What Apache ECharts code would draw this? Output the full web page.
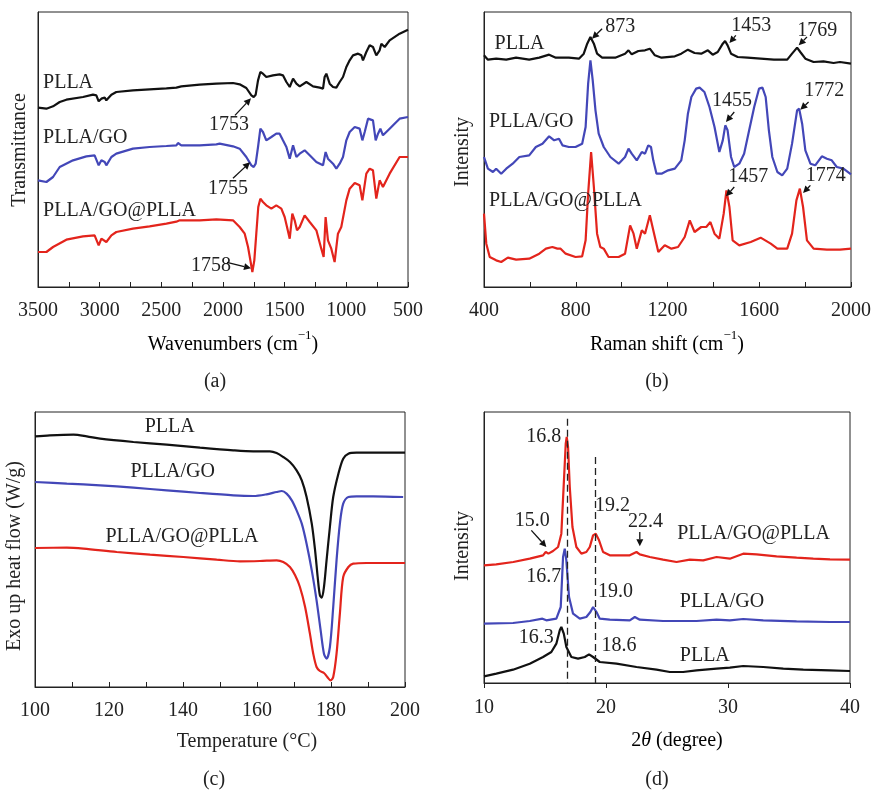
<!DOCTYPE html>
<html><head><meta charset="utf-8">
<script src="https://cdn.jsdelivr.net/npm/echarts@6/dist/echarts.min.js"></script>
<style>html,body{margin:0;padding:0;background:#fff}#c{width:874px;height:790px}</style>
</head><body><div id="c"></div>
<script>
// ---------- DATA ----------
// (a) FTIR, x = wavenumber (cm-1), y = transmittance (a.u., offset)
const ftirPLLA = [[3500,538],[3432,535],[3378,542],[3324,555],[3270,562],[3135,570],[3054,577],[3027,575],[3008,557],[2986,565],[2959,568],[2946,560],[2905,577],[2865,585],[2730,590],[2595,593],[2459,596],[2378,598],[2365,592],[2338,602],[2189,607],[2054,610],[1919,612],[1865,608],[1811,597],[1770,575],[1751,570],[1735,577],[1716,620],[1697,645],[1676,640],[1649,630],[1595,635],[1541,638],[1514,635],[1486,615],[1459,600],[1432,625],[1405,610],[1378,602],[1324,615],[1270,602],[1216,598],[1189,595],[1176,630],[1162,640],[1135,610],[1108,600],[1081,598],[1054,615],[1027,630],[1000,660],[973,680],[946,695],[905,700],[878,695],[865,680],[838,705],[811,725],[784,720],[757,695],[730,710],[716,730],[689,720],[649,740],[568,760],[500,772]];
const ftirPLLAGO = [[3500,320],[3432,315],[3378,330],[3324,360],[3216,380],[3108,392],[3041,395],[3008,365],[2986,380],[2959,375],[2946,365],[2905,390],[2865,400],[2730,415],[2595,420],[2459,423],[2378,425],[2365,432],[2338,425],[2189,425],[2054,428],[2027,430],[1919,422],[1865,415],[1811,390],[1770,365],[1751,360],[1735,370],[1716,420],[1697,475],[1676,465],[1649,440],[1608,450],[1568,460],[1541,460],[1514,440],[1486,420],[1459,385],[1432,425],[1405,390],[1378,400],[1338,410],[1297,395],[1243,375],[1189,365],[1168,405],[1149,385],[1108,370],[1081,355],[1054,370],[1027,390],[1000,440],[973,465],[932,480],[892,475],[870,440],[851,465],[824,505],[784,500],[762,440],[743,460],[724,475],[703,455],[649,475],[568,505],[500,510]];
const ftirPLLAGOPLLA = [[3500,105],[3432,105],[3378,120],[3270,142],[3135,152],[3041,155],[3008,125],[2986,145],[2946,135],[2905,155],[2865,165],[2730,175],[2595,182],[2459,190],[2378,196],[2351,200],[2338,195],[2189,200],[2054,203],[1919,200],[1865,180],[1824,160],[1797,120],[1778,80],[1762,45],[1746,80],[1730,160],[1714,240],[1697,265],[1676,255],[1649,245],[1608,235],[1568,245],[1527,235],[1500,210],[1481,180],[1459,145],[1438,220],[1419,200],[1400,170],[1378,180],[1338,215],[1297,195],[1243,170],[1203,115],[1184,90],[1168,210],[1149,140],[1122,115],[1095,75],[1068,160],[1041,180],[1000,260],[973,295],[932,312],[892,305],[870,260],[838,340],[811,355],[784,350],[757,265],[730,320],[703,300],[649,340],[568,390],[500,390]];

// (b) Raman, x = Raman shift (cm-1), y = intensity (a.u., offset)
const ramanPLLA = [[400,695],[417,682],[453,685],[497,682],[540,688],[597,682],[641,688],[684,697],[713,688],[770,688],[814,685],[835,700],[850,730],[864,750],[879,730],[893,700],[915,688],[972,688],[1015,700],[1030,710],[1044,698],[1073,708],[1102,710],[1123,715],[1145,695],[1174,688],[1232,692],[1260,700],[1289,712],[1318,702],[1347,700],[1376,710],[1397,697],[1419,705],[1441,730],[1451,738],[1462,725],[1477,700],[1506,690],[1549,688],[1606,685],[1664,682],[1722,682],[1743,700],[1765,718],[1779,705],[1801,685],[1837,675],[1880,677],[1924,672],[1952,675],[2000,670]];
const ramanPLLAGO = [[400,390],[417,355],[439,345],[453,355],[475,340],[497,355],[525,370],[554,390],[597,395],[626,420],[655,430],[684,452],[706,440],[727,445],[742,425],[770,420],[799,420],[828,430],[843,480],[854,610],[864,680],[874,620],[886,530],[900,460],[922,420],[951,390],[987,370],[1015,390],[1030,415],[1044,400],[1066,380],[1088,405],[1102,400],[1116,425],[1128,420],[1138,380],[1152,340],[1174,340],[1203,350],[1232,355],[1260,380],[1275,440],[1289,520],[1304,570],[1325,595],[1340,598],[1361,585],[1383,540],[1405,480],[1426,405],[1441,440],[1452,485],[1462,470],[1477,390],[1491,360],[1513,370],[1534,400],[1556,470],[1578,540],[1599,595],[1614,598],[1628,570],[1642,470],[1657,390],[1679,345],[1700,335],[1722,355],[1743,430],[1765,530],[1774,535],[1787,490],[1801,410],[1823,370],[1844,365],[1873,392],[1895,385],[1916,380],[1938,360],[1967,355],[2000,338]];
const ramanPLLAGOPLLA = [[400,220],[410,130],[425,90],[453,80],[475,75],[504,88],[540,82],[597,85],[641,100],[670,115],[698,120],[720,115],[734,115],[756,100],[799,90],[828,92],[843,140],[854,280],[867,405],[879,300],[893,160],[907,120],[922,115],[943,90],[987,90],[1015,100],[1037,185],[1052,160],[1066,115],[1088,170],[1102,160],[1123,215],[1138,170],[1160,105],[1188,125],[1217,115],[1246,120],[1275,150],[1297,200],[1318,165],[1347,180],[1369,180],[1387,195],[1405,160],[1426,145],[1445,220],[1457,290],[1470,240],[1484,140],[1513,125],[1563,135],[1606,148],[1650,130],[1679,115],[1722,115],[1743,160],[1762,260],[1777,295],[1791,240],[1808,140],[1837,115],[1895,112],[1952,112],[2000,115]];

// (c) DSC, x = temperature (°C), y = heat flow (a.u., offset)
const dscPLLA = [[100,752],[104,755],[110.4,757],[114,752],[117.6,745],[126.6,735],[135.6,727],[144.6,718],[153.6,710],[159,707],[163.5,707],[165.3,702],[167.1,690],[168.9,675],[170.7,650],[172.1,620],[173.4,570],[174.8,490],[175.7,410],[176.4,330],[177,275],[177.5,268],[178.1,300],[178.8,380],[179.7,480],[180.6,570],[182,640],[183.3,685],[184.7,700],[186.9,703],[191.4,703],[200,703]];
const dscPLLAGO = [[100,615],[108.6,610],[117.6,605],[126.6,598],[135.6,590],[144.6,582],[153.6,575],[159,573],[162.6,578],[165.3,585],[166.7,588],[168,580],[169.4,560],[170.7,530],[172.1,490],[173.4,430],[174.8,350],[176.1,260],[177.2,170],[178.1,100],[178.8,85],[179.7,120],[180.6,240],[181.5,380],[182.4,490],[183.3,550],[184.7,570],[186.9,572],[191.4,572],[199.5,570]];
const dscPLLAGOPLLA = [[100,417],[108.6,418],[113.1,415],[122.1,405],[131.1,397],[140.1,390],[149.1,382],[155.4,377],[160.8,378],[165.3,380],[167.1,375],[168.9,360],[170.3,335],[171.6,300],[173,240],[174.3,160],[175.2,100],[176.1,60],[177,48],[178.1,42],[179,30],[179.9,20],[180.6,30],[181.5,100],[182.4,220],[183.3,330],[184.7,360],[186,370],[189.6,372],[200,372]];

// (d) XRD, x = 2θ (degree), y = intensity (a.u., offset)
const xrdPLLAGOPLLA = [[10,353],[11,356],[12.4,363],[13.75,373],[14.84,383],[15.06,393],[15.28,388],[15.66,396],[16.07,408],[16.34,448],[16.54,598],[16.7,718],[16.78,738],[16.89,708],[17.03,588],[17.25,468],[17.57,408],[17.98,388],[18.39,393],[18.67,408],[18.94,443],[19.16,448],[19.43,428],[19.76,393],[20.31,383],[21.13,383],[21.95,383],[22.5,393],[22.77,386],[23.59,378],[24.68,370],[25.78,363],[26.87,370],[27.97,368],[29.06,378],[30.15,373],[31.25,388],[32.34,386],[33.98,380],[35.62,376],[36.99,373],[38.36,371],[40,370]];
const xrdPLLAGO = [[10,178],[12.38,180],[13.75,186],[14.79,193],[15.11,188],[15.93,193],[16.29,228],[16.48,378],[16.62,403],[16.75,368],[16.97,258],[17.3,208],[17.85,193],[18.39,198],[18.72,213],[18.94,228],[19.22,213],[19.49,193],[20.31,190],[21.95,188],[22.36,198],[22.77,190],[24.68,186],[27.42,186],[29.06,190],[30.15,188],[31.25,192],[32.89,188],[35.62,185],[38.36,183],[40,183]];
const xrdPLLA = [[10,20],[11.01,28],[12.38,40],[13.75,58],[14.84,78],[15.52,93],[15.93,118],[16.21,158],[16.34,168],[16.54,148],[16.75,108],[17.16,78],[17.71,73],[18.26,78],[18.61,86],[18.94,78],[19.49,63],[20.86,58],[22.5,48],[24.14,40],[25.23,33],[26.32,33],[27.42,38],[29.06,43],[30.15,46],[31.25,51],[32.89,48],[34.53,43],[36.17,40],[38.36,38],[40,36]];
const xrdRefLines = [[16.84, 793], [19.1, 678]]; // dashed guide lines: [2θ, top]

// annotations: [grid, text, x, y, align]
const labels = [
  [0,'PLLA',3459,614,'left'],[0,'PLLA/GO',3459,449,'left'],[0,'PLLA/GO@PLLA',3459,230,'left'],
  [0,'1753',1951,488,'center'],[0,'1755',1959,296,'center'],[0,'1758',2097,65,'center'],
  [1,'PLLA',446,730,'left'],[1,'873',994,782,'center'],[1,'1453',1565,785,'center'],[1,'1769',1853,770,'center'],
  [1,'PLLA/GO',422,495,'left'],[1,'1455',1481,560,'center'],[1,'1772',1883,588,'center'],
  [1,'PLLA/GO@PLLA',422,260,'left'],[1,'1457',1552,330,'center'],[1,'1774',1890,333,'center'],
  [2,'PLLA',136.4,780,'center'],[2,'PLLA/GO',137.2,645,'center'],[2,'PLLA/GO@PLLA',139.7,450,'center'],
  [3,'16.8',14.89,738,'center'],[3,'15.0',13.96,488,'center'],[3,'19.2',20.53,533,'center'],[3,'22.4',23.23,483,'center'],
  [3,'PLLA/GO@PLLA',25.83,448,'left'],[3,'16.7',14.89,318,'center'],[3,'19.0',20.77,273,'center'],
  [3,'PLLA/GO',26.05,243,'left'],[3,'16.3',14.29,136,'center'],[3,'18.6',21.07,113,'center'],[3,'PLLA',26.05,83,'left']
];
// arrows: [grid, [x0,y0], [x1,y1]]
const arrows = [
  [0,[1903,515],[1773,566]],[0,[1919,326],[1781,374]],[0,[1968,74],[1773,56]],
  [1,[915,775],[871,745]],[1,[1498,755],[1470,732]],[1,[1808,750],[1772,725]],
  [1,[1491,525],[1455,495]],[1,[1815,555],[1779,532]],
  [1,[1491,300],[1455,272]],[1,[1823,305],[1791,282]],
  [3,[13.88,458],[15.11,408]],[3,[22.77,453],[22.77,410]]
];

// ---------- CHART ----------
const FONT = "'Liberation Serif','Times New Roman',serif";
const BLACK = '#111', BLUE = '#4347b8', RED = '#e3241c';
const chart = echarts.init(document.getElementById('c'));

const grids = [
  {left:38, top:12, width:370, height:275},
  {left:484, top:12, width:370, height:275},
  {left:35, top:412, width:370, height:275},
  {left:484, top:412, width:366, height:271}
].map(g => Object.assign({show:true, borderColor:'#222', borderWidth:1, backgroundColor:'transparent'}, g));

function xAx(i, min, max, interval, inverse, inside, minor) {
  return {
    gridIndex:i, type:'value', min, max, interval, inverse,
    axisLine:{show:true, lineStyle:{color:'#222', width:1}},
    axisTick:{show:true, inside, length:5, lineStyle:{color:'#222'}},
    minorTick:{show:minor, splitNumber:2, length:5, lineStyle:{color:'#222'}},
    splitLine:{show:false}, minorSplitLine:{show:false},
    axisLabel:{color:'#222', fontFamily:FONT, fontSize:20, margin:inside?14:15, formatter:v => String(v)}
  };
}
function yAx(i, max) {
  return {gridIndex:i, type:'value', min:0, max, axisLine:{show:true, lineStyle:{color:'#222'}},
    axisTick:{show:false}, axisLabel:{show:false}, splitLine:{show:false}};
}
function line(i, data, color, smooth) {
  return {type:'line', xAxisIndex:i, yAxisIndex:i, data, showSymbol:false, smooth:smooth||false,
    lineStyle:{color, width:2.2}, itemStyle:{color}, animation:false, z:3};
}

const series = [
  line(0, ftirPLLA, BLACK), line(0, ftirPLLAGO, BLUE), line(0, ftirPLLAGOPLLA, RED),
  line(1, ramanPLLA, BLACK), line(1, ramanPLLAGO, BLUE), line(1, ramanPLLAGOPLLA, RED),
  line(2, dscPLLA, BLACK, 0.3), line(2, dscPLLAGO, BLUE, 0.3), line(2, dscPLLAGOPLLA, RED, 0.3),
  line(3, xrdPLLAGOPLLA, RED), line(3, xrdPLLAGO, BLUE), line(3, xrdPLLA, BLACK)
];
series[11].markLine = {
  silent:true, symbol:'none', animation:false,
  lineStyle:{color:'#222', type:[7,4], width:1.3},
  data: xrdRefLines.map(r => [{coord:[r[0], r[1]]}, {coord:[r[0], 0]}])
};

chart.setOption({
  animation:false,
  grid:grids,
  xAxis:[xAx(0,500,3500,500,true,true,true), xAx(1,400,2000,400,false,true,true),
         xAx(2,100,200,20,false,true,true), xAx(3,10,40,10,false,false,false)],
  yAxis:[yAx(0,825), yAx(1,825), yAx(2,825), yAx(3,813)],
  series
});

const txt = (text, x, y, opts) => ({type:'text', x, y, silent:true, z:10,
  style:Object.assign({text, fill:'#222', font:'20px ' + FONT, textAlign:'center', textVerticalAlign:'middle'}, opts||{})});
// rich titles with superscripts and italic theta
const rich = {
  n:{fontFamily:FONT, fontSize:20, color:'#222', lineHeight:26, verticalAlign:'bottom'},
  s:{fontFamily:FONT, fontSize:13, color:'#222', lineHeight:26, verticalAlign:'top'},
  i:{fontFamily:FONT, fontSize:20, color:'#222', fontStyle:'italic', lineHeight:26, verticalAlign:'bottom'}
};
const richTxt = (text, x, y) => ({type:'text', x, y, silent:true, z:10,
  style:{text, rich, textAlign:'center', textVerticalAlign:'middle'}});

const g = [
  richTxt('{n|Wavenumbers (cm}{s|−1}{n|)}', 233, 342),
  richTxt('{n|Raman shift (cm}{s|−1}{n|)}', 667, 342),
  richTxt('{n|2}{i|θ}{n| (degree)}', 677, 738),
  txt('(a)', 215, 382), txt('(b)', 657, 382), txt('(c)', 214, 780), txt('(d)', 657, 780),
  txt('Temperature (°C)', 247, 742),
  Object.assign(txt('Transmittance', 20, 150), {rotation:Math.PI/2}),
  Object.assign(txt('Intensity', 463, 152), {rotation:Math.PI/2}),
  Object.assign(txt('Exo up heat flow (W/g)', 15, 556), {rotation:Math.PI/2}),
  Object.assign(txt('Intensity', 463, 546), {rotation:Math.PI/2})
];
labels.forEach(l => {
  const p = chart.convertToPixel({gridIndex:l[0]}, [l[2], l[3]]);
  g.push(txt(l[1], p[0], p[1], {textAlign:l[4]}));
});
arrows.forEach(a => {
  const p0 = chart.convertToPixel({gridIndex:a[0]}, a[1]);
  const p1 = chart.convertToPixel({gridIndex:a[0]}, a[2]);
  const dx = p1[0]-p0[0], dy = p1[1]-p0[1], L = Math.hypot(dx,dy), ux = dx/L, uy = dy/L;
  const hl = 7, hw = 3.5;
  const bx = p1[0]-ux*hl, by = p1[1]-uy*hl;
  g.push({type:'line', silent:true, z:10, shape:{x1:p0[0], y1:p0[1], x2:bx, y2:by}, style:{stroke:'#111', lineWidth:1.3}});
  g.push({type:'polygon', silent:true, z:10, shape:{points:[[p1[0],p1[1]],[bx-uy*hw,by+ux*hw],[bx+uy*hw,by-ux*hw]]}, style:{fill:'#111'}});
});
chart.setOption({graphic:g});
</script></body></html>
